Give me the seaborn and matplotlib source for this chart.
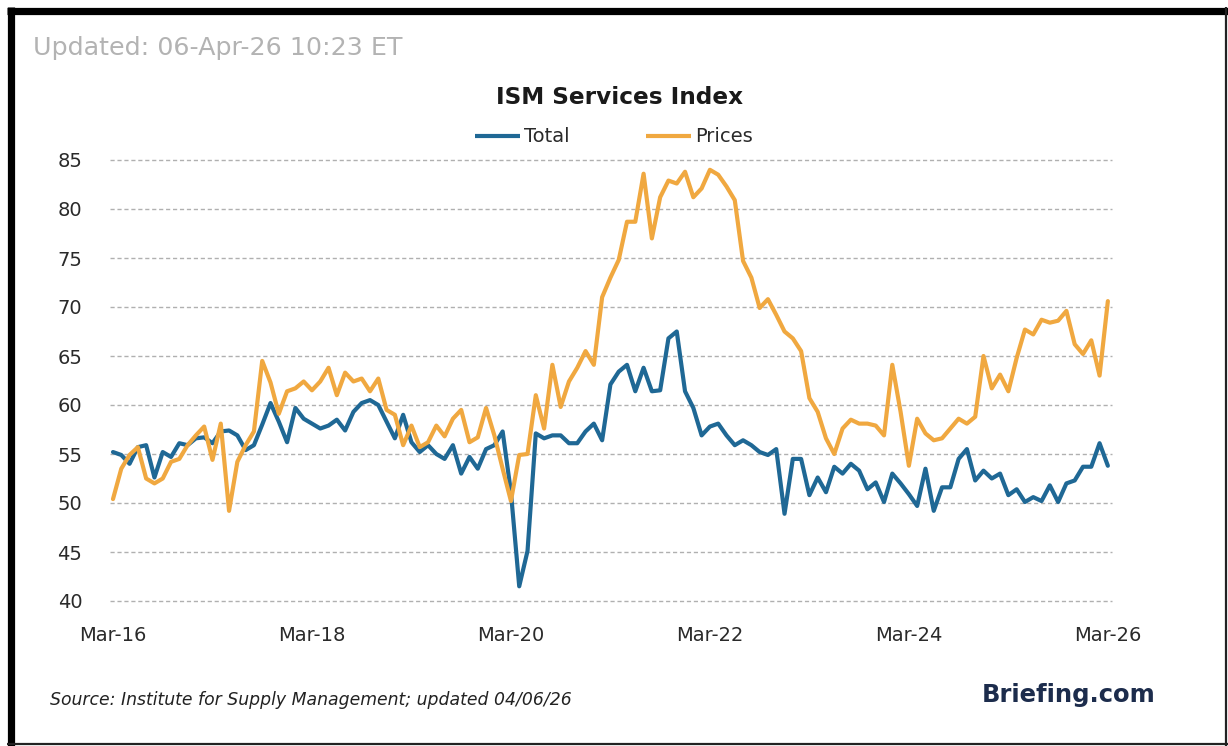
import matplotlib
matplotlib.use("Agg")
import matplotlib.pyplot as plt
from matplotlib.lines import Line2D
import seaborn as sns
import pandas as pd
import numpy as np

# ---- data (monthly, Mar-16 .. Mar-26) ----
total = [55.2, 54.9, 54.0, 55.7, 55.9, 52.6, 55.2, 54.7, 56.1, 55.9,
         56.6, 56.7, 56.1, 57.3, 57.4, 56.9, 55.4, 55.9, 58.0, 60.2,
         58.3, 56.2, 59.7, 58.6, 58.1, 57.6, 57.9, 58.5, 57.4, 59.3,
         60.2, 60.5, 60.0, 58.3, 56.6, 59.0, 56.2, 55.2, 55.9, 55.0,
         54.5, 55.9, 53.0, 54.7, 53.5, 55.5, 55.9, 57.3, 51.1, 41.5,
         45.1, 57.1, 56.6, 56.9, 56.9, 56.1, 56.1, 57.3, 58.1, 56.4,
         62.1, 63.4, 64.1, 61.4, 63.8, 61.4, 61.5, 66.8, 67.5, 61.4,
         59.7, 56.9, 57.8, 58.1, 56.9, 55.9, 56.4, 55.9, 55.2, 54.9,
         55.5, 48.9, 54.5, 54.5, 50.8, 52.6, 51.1, 53.7, 53.0, 54.0,
         53.3, 51.4, 52.1, 50.1, 53.0, 52.0, 50.9, 49.7, 53.5, 49.2,
         51.6, 51.6, 54.5, 55.5, 52.3, 53.3, 52.5, 53.0, 50.8, 51.4,
         50.1, 50.6, 50.2, 51.8, 50.1, 52.0, 52.3, 53.7, 53.7, 56.1,
         53.8]
prices = [50.4, 53.5, 54.9, 55.7, 52.5, 52.0, 52.5, 54.2, 54.5, 55.9,
          56.9, 57.8, 54.4, 58.1, 49.2, 54.2, 55.9, 57.3, 64.5, 62.3,
          59.1, 61.4, 61.7, 62.4, 61.5, 62.4, 63.8, 61.0, 63.3, 62.4,
          62.7, 61.4, 62.7, 59.5, 59.0, 55.9, 57.9, 55.7, 56.2, 57.9,
          56.8, 58.6, 59.5, 56.2, 56.7, 59.7, 56.9, 53.5, 50.2, 54.9,
          55.0, 61.0, 57.6, 64.1, 59.8, 62.4, 63.8, 65.5, 64.1, 71.0,
          73.0, 74.8, 78.7, 78.7, 83.6, 77.0, 81.2, 82.9, 82.6, 83.8,
          81.2, 82.1, 84.0, 83.5, 82.3, 80.9, 74.7, 73.0, 69.9, 70.8,
          69.2, 67.5, 66.8, 65.5, 60.7, 59.3, 56.6, 55.0, 57.6, 58.5,
          58.1, 58.1, 57.9, 56.9, 64.1, 59.3, 53.8, 58.6, 57.1, 56.4,
          56.6, 57.6, 58.6, 58.1, 58.8, 65.0, 61.7, 63.1, 61.4, 64.8,
          67.7, 67.2, 68.7, 68.4, 68.6, 69.6, 66.2, 65.2, 66.6, 63.0,
          70.6]
tick_labels = ["Mar-16", "Mar-18", "Mar-20", "Mar-22", "Mar-24", "Mar-26"]
y_ticks = [40, 45, 50, 55, 60, 65, 70, 75, 80, 85]
series_names = ["Total", "Prices"]

months = np.arange(len(total))
df = pd.DataFrame({
    "month": np.concatenate([months, months]),
    "value": total + prices,
    "series": [series_names[0]] * len(total) + [series_names[1]] * len(prices),
})

sns.set_theme(style="white")
plt.rcParams["font.family"] = ["DejaVu Sans"]

W, H = 1228, 746
fig = plt.figure(figsize=(W / 100, H / 100), dpi=100)
fig.patch.set_facecolor("white")

ax_left, ax_right, ax_top, ax_bottom = 110, 1112, 160, 601
ax = fig.add_axes([ax_left / W, 1 - ax_bottom / H,
                   (ax_right - ax_left) / W, (ax_bottom - ax_top) / H])

palette = {"Total": "#1f6895", "Prices": "#f0a840"}
sns.lineplot(data=df, x="month", y="value", hue="series", palette=palette,
             linewidth=3.0, ax=ax, legend=True)
for ln in ax.get_lines():
    ln.set_solid_joinstyle("round")
    ln.set_solid_capstyle("round")

ax.set_xlim(-0.36, 120.5)
ax.set_ylim(40, 85)
ax.set_xticks(np.arange(0, 121, 24))
ax.set_xticklabels(tick_labels)
ax.set_yticks(y_ticks)
ax.set_xlabel("")
ax.set_ylabel("")
for s in ax.spines.values():
    s.set_visible(False)
ax.grid(False)
for v in y_ticks:
    ax.axhline(v, color="#b0b0b0", linewidth=1.0, linestyle=(0, (3, 2)),
               zorder=0, clip_on=False)
ax.tick_params(axis="both", length=0, labelsize=14, colors="#2a2a2a")
ax.tick_params(axis="x", pad=18)
ax.tick_params(axis="y", pad=20)

# legend
handles, labels = ax.get_legend_handles_labels()
for h in handles:
    h.set_solid_capstyle("butt")
ax.legend(handles, labels, loc="center", ncol=2, frameon=False,
          bbox_to_anchor=(614 / W, 1 - 137 / H), bbox_transform=fig.transFigure,
          fontsize=14, handlelength=2.3, handletextpad=0.25,
          columnspacing=3.9, labelcolor="#2a2a2a")

# texts
fig.text(33 / W, 1 - 48 / H, "Updated: 06-Apr-26 10:23 ET", fontsize=18.3,
         color="#b3b3b3", ha="left", va="center")
fig.text(620 / W, 1 - 98 / H, "ISM Services Index", fontsize=16.7,
         fontweight="bold", color="#1a1a1a", ha="center", va="center")
fig.text(50 / W, 1 - 700 / H,
         "Source: Institute for Supply Management; updated 04/06/26",
         fontsize=12.4, style="italic", color="#222222", ha="left", va="center")
fig.text(1155 / W, 1 - 695 / H, "Briefing.com", fontsize=17.5,
         fontweight="bold", color="#1c2c4c", ha="right", va="center")

# outer frame
def fline(x0, y0, x1, y1, lw, color="black"):
    fig.add_artist(Line2D([x0 / W, x1 / W], [1 - y0 / H, 1 - y1 / H],
                          transform=fig.transFigure, color=color,
                          linewidth=lw, solid_capstyle="butt"))

fline(7, 10.5, 1228, 10.5, 5.2)
fline(10.5, 7, 10.5, 746, 5.2)
fline(1226, 7, 1226, 746, 1.6, "#222222")
fline(7, 744, 1228, 744, 1.6, "#222222")

fig.savefig("out.png", dpi=100, facecolor="white")
